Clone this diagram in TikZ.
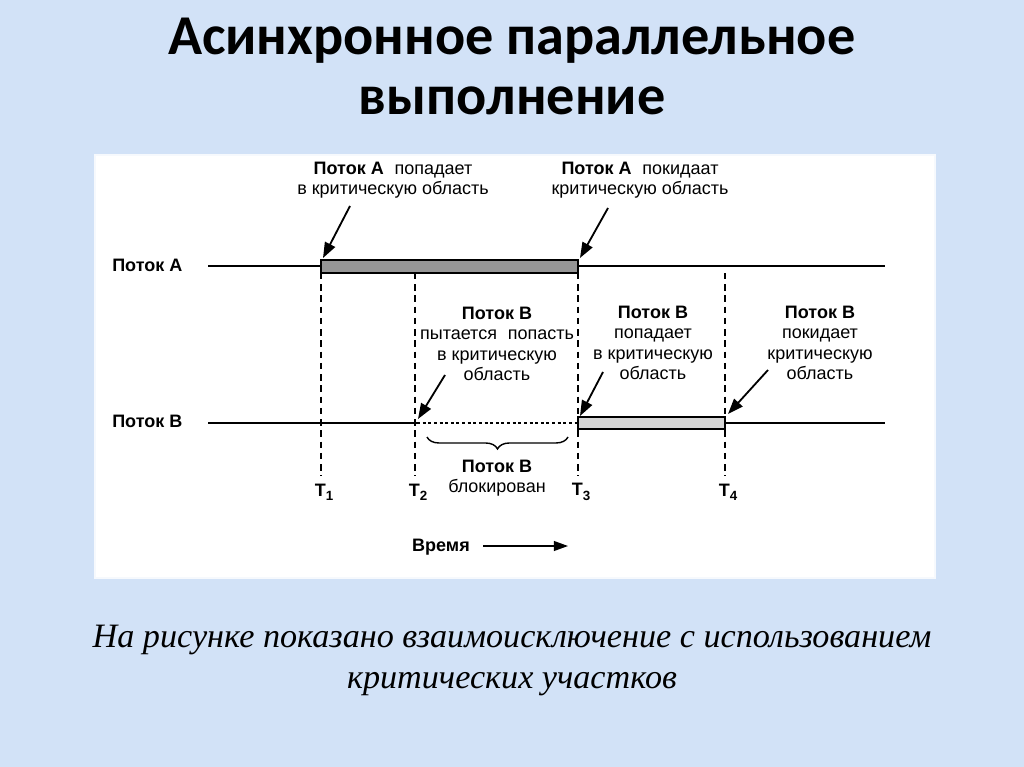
\documentclass[tikz,border=0pt]{standalone}
\usepackage{fontspec}
\setmainfont{Liberation Sans}
\newfontfamily\titlefont{Carlito}
\newfontfamily\capfont{Liberation Serif}
\usetikzlibrary{arrows.meta,decorations.pathreplacing}

\definecolor{slidebg}{RGB}{210,226,247}
\definecolor{barA}{RGB}{150,150,150}
\definecolor{barB}{RGB}{214,214,214}

\newcommand{\tsub}[1]{\raisebox{-0.45ex}{\fontsize{9.5}{9.5}\selectfont #1}}

\begin{document}
\begin{tikzpicture}[x=0.025cm,y=-0.025cm,
    every node/.style={inner sep=0pt, font=\fontsize{12.8}{14.6}\selectfont},
    axis/.style={line width=1.3pt},
    guide/.style={line width=1.1pt, dash pattern=on 4.5pt off 3.5pt},
    ptr/.style={line width=1.3pt, -{Triangle[length=11pt,width=8pt]}},
    note/.style={align=center}]

    % Slide
    \fill[slidebg] (0,0) rectangle (1024,767);
    \useasboundingbox (0,0) rectangle (1024,767);
    \fill[white] (95,155) rectangle (935,578);
    \draw[white!80!slidebg, line width=1pt] (95,155) rectangle (935,578);

    % Title
    \node[anchor=base, font=\titlefont\bfseries\fontsize{40}{48}\selectfont] (title1) at (512,55) {Асинхронное параллельное};
    \node[anchor=base, font=\titlefont\bfseries\fontsize{40}{48}\selectfont] (title2) at (512,115) {выполнение};

    % Thread lines
    \node[anchor=west] (thrA) at (112,265) {\textbf{Поток А}};
    \node[anchor=west] (thrB) at (112,421) {\textbf{Поток В}};
    \coordinate (A0) at (208,266);
    \coordinate (A9) at (885,266);
    \coordinate (B0) at (208,423);
    \coordinate (B9) at (885,423);
    \draw[axis] (A0) -- (A9);
    \draw[axis] (B0) -- (417,423);
    \draw[line width=1.6pt, dash pattern=on 2.2pt off 1.8pt] (417,423) -- (578,423);
    \draw[axis] (725,423) -- (B9);

    % Critical sections
    \draw[fill=barA, line width=1pt] (321,260) rectangle (578,273);
    \draw[fill=barB, line width=1pt] (578,417) rectangle (725,429);

    % Time marks
    \foreach \x/\n in {321/1,415/2,578/3,725/4} {
        \draw[guide] (\x,273) -- (\x,476);
        \node (t\n) at (\x+3,492) {\textbf{T\tsub{\n}}};
    }

    % Labels, thread A
    \node[note] (enterA) at (393,180) {\textbf{Поток А}\hspace{0.6em}попадает\\в критическую область};
    \node[note] (leaveA) at (640,180) {\textbf{Поток А}\hspace{0.6em}покидаат\\критическую область};
    \coordinate (enterAtip) at (323,258);
    \coordinate (leaveAtip) at (580,258);
    \draw[ptr] (350,206) -- (enterAtip);
    \draw[ptr] (608,208) -- (leaveAtip);

    % Labels, thread B
    \node[note] (tryB) at (497,344) {\textbf{Поток В}\\пытается\hspace{0.6em}попасть\\в критическую\\область};
    \node[note] (enterB) at (653,343) {\textbf{Поток В}\\попадает\\в критическую\\область};
    \node[note] (leaveB) at (820,343) {\textbf{Поток В}\\покидает\\критическую\\область};
    \coordinate (tryBtip) at (418,419);
    \coordinate (enterBtip) at (580,416);
    \coordinate (leaveBtip) at (728,414);
    \draw[ptr] (445,375) -- (tryBtip);
    \draw[ptr] (603,372) -- (enterBtip);
    \draw[ptr] (768,370) -- (leaveBtip);

    % Blocked interval
    \draw[line width=1pt, decorate, decoration={brace, amplitude=8.5pt, mirror}] (427,437) -- (568,437);
    \node[note] (blocked) at (497,478) {\textbf{Поток В}\\блокирован};

    % Time axis
    \node (time) at (441,547) {\textbf{Время}};
    \coordinate (timeend) at (568,546);
    \draw[line width=1pt, -{Triangle[length=10pt,width=7pt]}] (483,546) -- (timeend);

    % Caption
    \node[anchor=base, font=\capfont\itshape\fontsize{24.3}{28}\selectfont] (cap1) at (512,647) {На рисунке показано взаимоисключение с использованием};
    \node[anchor=base, font=\capfont\itshape\fontsize{24.3}{28}\selectfont] (cap2) at (512,688) {критических участков};
\end{tikzpicture}
\end{document}
